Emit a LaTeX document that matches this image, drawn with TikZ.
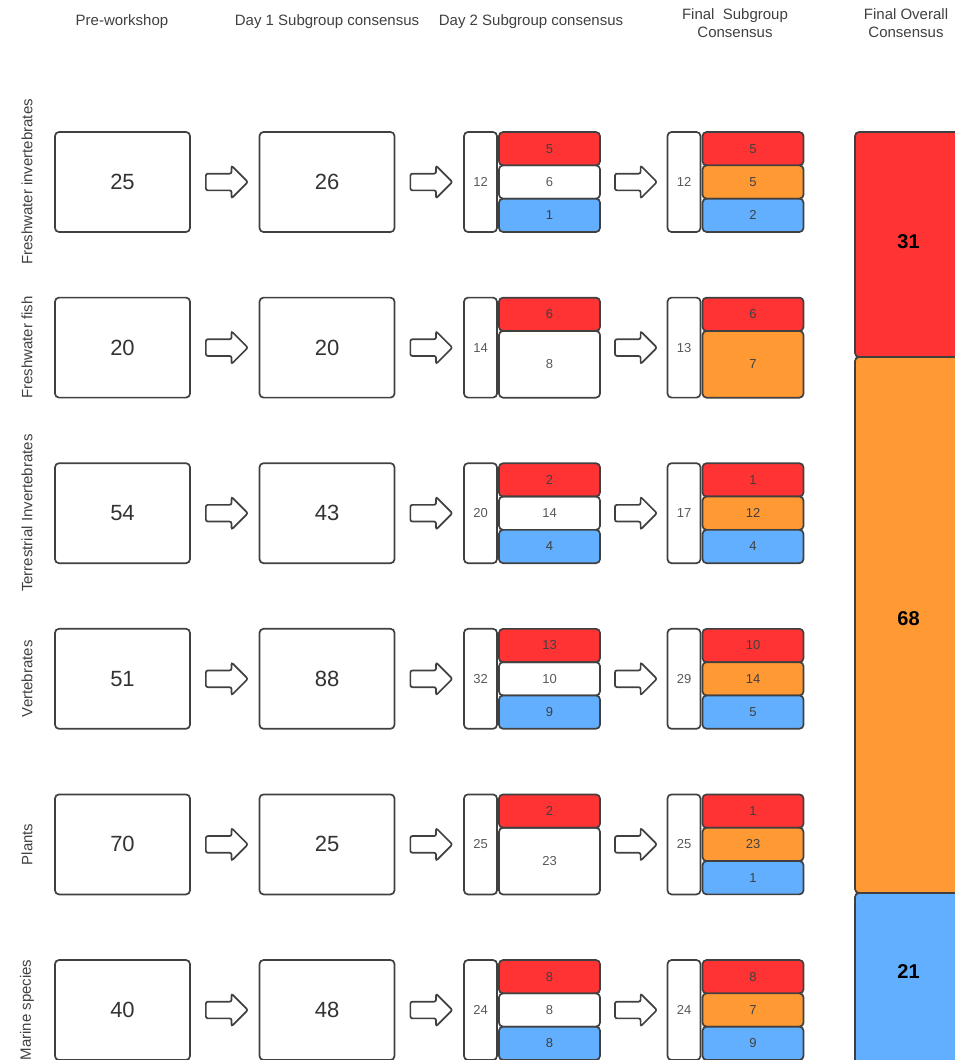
\documentclass[tikz,border=0pt]{standalone}
\usepackage{fontspec}
\setmainfont{Liberation Sans}
\usetikzlibrary{positioning,calc,shapes.arrows}

\definecolor{hired}{HTML}{FF3333}
\definecolor{midorange}{HTML}{FF9933}
\definecolor{lowblue}{HTML}{63AFFF}

\begin{document}
\begin{tikzpicture}[x=1pt,y=-1pt]
    \tikzstyle{box}=[draw=black!75,line width=1.7pt,rounded corners=4pt,inner sep=0pt]
    \tikzstyle{bigbox}=[box,minimum width=135pt,minimum height=100pt,text=black!80,font=\fontsize{22}{24}\selectfont]
    \tikzstyle{totbox}=[box,minimum width=33pt,minimum height=100pt,text=black!65,font=\fontsize{13}{15}\selectfont]
    \tikzstyle{part}=[box,minimum width=101pt,minimum height=33.3pt,text=black!75,font=\fontsize{13}{15}\selectfont]
    \tikzstyle{overall}=[box,minimum width=107pt,text=black,font=\fontsize{20}{22}\selectfont\bfseries]
    \tikzstyle{flow}=[single arrow,draw=black!75,line width=1.7pt,minimum height=42pt,inner xsep=0pt,inner ysep=7.5pt,single arrow head extend=8pt,rounded corners=2pt]
    \tikzstyle{head}=[text=black!75,font=\fontsize{15}{18}\selectfont,align=center]
    \tikzstyle{rowlabel}=[head,rotate=90]

    \clip (0,0) rectangle (955,1060);

    % column headers
    \node[head] (h-pre) at (122,22) {Pre-workshop};
    \node[head] (h-one) at (327,22) {Day 1 Subgroup consensus};
    \node[head] (h-two) at (531,22) {Day 2 Subgroup consensus};
    \node[head] (h-fin) at (735,23) {Final\ \ Subgroup\\Consensus};
    \node[head] (h-all) at (906,23) {Final Overall\\Consensus};

    % one row per species group
    \foreach \r/\lab/\pre/\dayone/\dtot/\dr/\dw/\db/\ftot/\fr/\fo/\fb in {
        1/Freshwater invertebrates/25/26/12/5/6/1/12/5/5/2,
        2/Freshwater fish/20/20/14/6/8/0/13/6/7/0,
        3/Terrestrial Invertebrates/54/43/20/2/14/4/17/1/12/4,
        4/Vertebrates/51/88/32/13/10/9/29/10/14/5,
        5/Plants/70/25/25/2/23/0/25/1/23/1,
        6/Marine species/40/48/24/8/8/8/24/8/7/9}
    {
        \pgfmathsetmacro\ty{132+165.6*(\r-1)}
        \pgfmathsetmacro\cy{\ty+50}
        \node[rowlabel] (lab-\r) at (27,\cy) {\lab};
        \node[bigbox] (pre-\r) at (122.5,\cy) {\pre};
        \node[bigbox] (one-\r) at (327,\cy) {\dayone};
        % day 2 split
        \node[totbox] (dtot-\r) at (480.5,\cy) {\dtot};
        \node[part,fill=hired] (dr-\r) at (549.5,\ty+16.7) {\dr};
        \ifnum\db=0
            \node[part,minimum height=66.7pt,text=black!65] (dw-\r) at (549.5,\ty+66.7) {\dw};
        \else
            \node[part,text=black!65] (dw-\r) at (549.5,\cy) {\dw};
            \node[part,fill=lowblue] (db-\r) at (549.5,\ty+83.3) {\db};
        \fi
        % final split
        \node[totbox] (ftot-\r) at (684,\cy) {\ftot};
        \node[part,fill=hired] (fr-\r) at (753,\ty+16.7) {\fr};
        \ifnum\fb=0
            \node[part,minimum height=66.7pt,fill=midorange] (fo-\r) at (753,\ty+66.7) {\fo};
        \else
            \node[part,fill=midorange] (fo-\r) at (753,\cy) {\fo};
            \node[part,fill=lowblue] (fb-\r) at (753,\ty+83.3) {\fb};
        \fi
        % block arrows
        \node[flow] (a1-\r) at ($(pre-\r.east)!0.47!(one-\r.west)$) {};
        \node[flow] (a2-\r) at ($(one-\r.east)!0.47!(dtot-\r.west)$) {};
        \node[flow] (a3-\r) at ($(dr-\r.east |- dtot-\r.center)!0.47!(ftot-\r.west)$) {};
    }

    % overall consensus bar
    \node[overall,fill=hired,minimum height=225pt,text depth=6pt] (all-red) at (908.5,244.5) {31};
    \node[overall,fill=midorange,minimum height=536pt,text depth=13pt] (all-orange) at (908.5,625) {68};
    \node[overall,fill=lowblue,minimum height=172pt,text depth=15pt] (all-blue) at (908.5,979) {21};
\end{tikzpicture}
\end{document}
